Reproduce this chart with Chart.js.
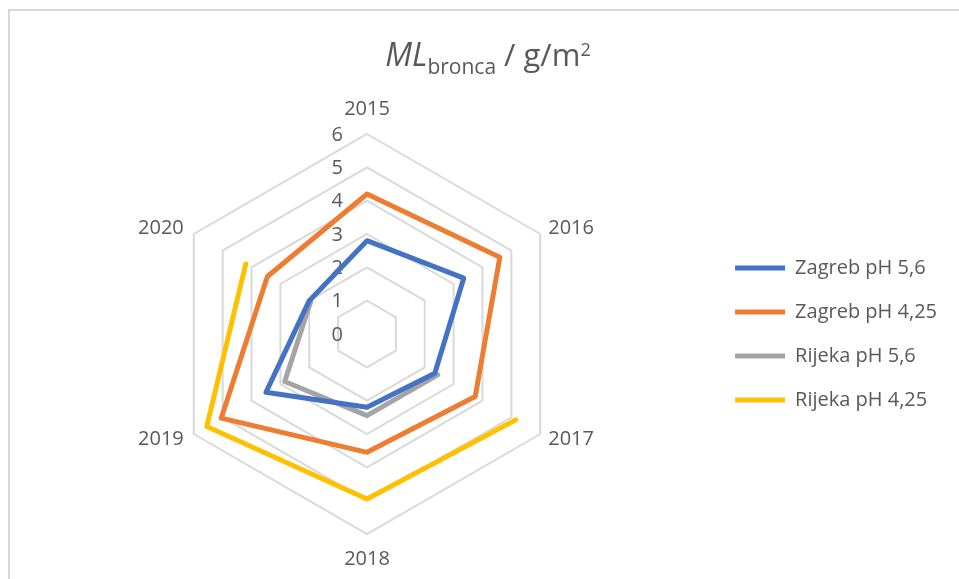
<!DOCTYPE html>
<html>
<head>
<meta charset="utf-8">
<script src="https://cdn.jsdelivr.net/npm/chart.js@4/dist/chart.umd.min.js"></script>
<style>
html,body{margin:0;padding:0;background:#fff;}
#wrap{position:relative;width:959px;height:579px;overflow:hidden;background:#fff;}
#frame{position:absolute;left:8px;top:9px;width:1000px;height:1000px;border-top:2px solid #d9d9d9;border-left:2px solid #d9d9d9;}
canvas{position:absolute;left:0;top:0;}
</style>
</head>
<body>
<div id="wrap"><div id="frame"></div><canvas id="c" width="959" height="579"></canvas></div>
<script>
const years = ['2015', '2016', '2017', '2018', '2019', '2020'];
const zagreb56 = [2.8, 3.35, 2.35, 2.2, 3.5, 2.0];
const zagreb425 = [4.2, 4.6, 3.75, 3.55, 5.05, 3.45];
const rijeka56 = [null, null, 2.45, 2.45, 2.85, 1.95];
const rijeka425 = [null, null, 5.15, 4.95, 5.55, 4.2];
const seriesNames = ['Zagreb pH 5,6', 'Zagreb pH 4,25', 'Rijeka pH 5,6', 'Rijeka pH 4,25'];
const seriesColors = ['#4472C4', '#ED7D31', '#A5A5A5', '#FFC000'];
const tickValues = [0, 1, 2, 3, 4, 5, 6];

const TEXT = '#595959';
const FONT = '"Open Sans", "Liberation Sans", sans-serif';

const labelPlugin = {
  id: 'customLabels',
  beforeDatasetsDraw(chart) {
    const s = chart.scales.r;
    const ctx = chart.ctx;
    ctx.save();
    ctx.fillStyle = TEXT;
    ctx.font = '20px ' + FONT;
    ctx.textAlign = 'right';
    ctx.textBaseline = 'middle';
    tickValues.forEach(v => {
      const d = s.getDistanceFromCenterForValue(v);
      ctx.fillText(String(v), s.xCenter - 24, s.yCenter - d + 1);
    });
    ctx.font = '20px ' + FONT;
    years.forEach((y, i) => {
      const p = s.getPointPosition(i, s.drawingArea);
      const a = s.getIndexAngle(i) - Math.PI / 2;
      const c = Math.cos(a), sn = Math.sin(a);
      let x = p.x, yy = p.y;
      if (Math.abs(c) < 0.1) {
        ctx.textAlign = 'center';
        yy += sn * 25;
      } else {
        ctx.textAlign = c > 0 ? 'left' : 'right';
        x += c > 0 ? 8 : -10;
        yy += sn * 11;
      }
      ctx.fillText(y, x, yy);
    });
    ctx.restore();
  },
  afterDraw(chart) {
    const ctx = chart.ctx;
    ctx.save();
    ctx.fillStyle = TEXT;
    ctx.textBaseline = 'alphabetic';
    ctx.textAlign = 'left';
    const parts = [
      {t: 'ML', f: 'italic 32px ' + FONT, dy: 0},
      {t: 'bronca', f: '21px ' + FONT, dy: 8},
      {t: ' / g/m', f: '31px ' + FONT, dy: 0},
      {t: '2', f: '18px ' + FONT, dy: -10}
    ];
    let total = 0;
    parts.forEach(p => { ctx.font = p.f; p.w = ctx.measureText(p.t).width; total += p.w; });
    let x = 488 - total / 2;
    const base = 66;
    parts.forEach(p => { ctx.font = p.f; ctx.fillText(p.t, x, base + p.dy); x += p.w; });
    ctx.restore();
  }
};

const dataSeries = [zagreb56, zagreb425, rijeka56, rijeka425];

new Chart(document.getElementById('c'), {
  type: 'radar',
  data: {
    labels: years,
    datasets: dataSeries.map((d, i) => ({
      label: seriesNames[i],
      data: d,
      borderColor: seriesColors[i],
      backgroundColor: seriesColors[i],
      borderWidth: 5,
      borderJoinStyle: 'round',
      borderCapStyle: 'round',
      pointRadius: 0,
      pointHoverRadius: 0,
      pointStyle: 'line',
      fill: false,
      spanGaps: false,
      tension: 0
    }))
  },
  options: {
    responsive: false,
    animation: false,
    layout: {padding: {top: 134, bottom: 45, left: 24, right: 12}},
    plugins: {
      title: {display: false},
      tooltip: {enabled: false},
      legend: {
        display: true,
        position: 'right',
        align: 'center',
        labels: {
          usePointStyle: true,
          pointStyle: 'line',
          pointStyleWidth: 50,
          boxHeight: 20,
          padding: 24,
          color: TEXT,
          font: {family: FONT, size: 20}
        }
      }
    },
    scales: {
      r: {
        min: 0,
        max: 6,
        startAngle: 0,
        ticks: {stepSize: 1, display: false},
        grid: {color: '#d9d9d9', lineWidth: 2, circular: false},
        angleLines: {display: false},
        pointLabels: {display: false}
      }
    }
  },
  plugins: [labelPlugin]
});
</script>
</body>
</html>
